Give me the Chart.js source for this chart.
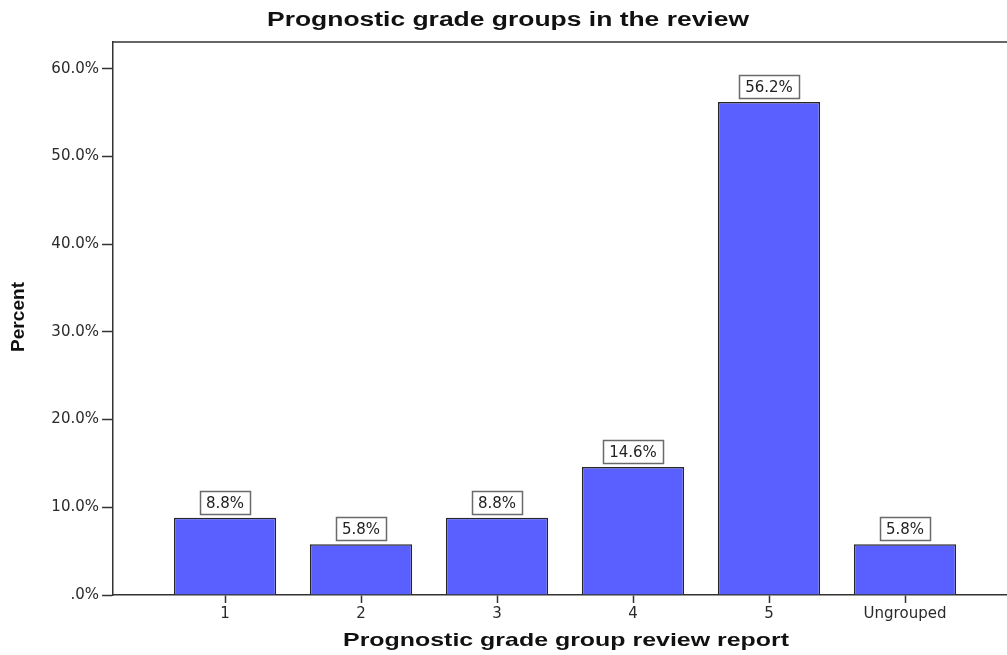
<!DOCTYPE html>
<html>
<head>
<meta charset="utf-8">
<script src="https://cdn.jsdelivr.net/npm/chart.js@4/dist/chart.umd.min.js"></script>
<style>
html,body{margin:0;padding:0;background:#fff;}
#wrap{width:1007px;height:655px;}
</style>
</head>
<body>
<div id="wrap"><canvas id="c" width="1007" height="655"></canvas></div>
<script>
const categories = ['1', '2', '3', '4', '5', 'Ungrouped'];
const percentValues = [8.8, 5.8, 8.8, 14.6, 56.2, 5.8];
const yTickValues = [0, 10, 20, 30, 40, 50, 60];
const chartTitle = 'Prognostic grade groups in the review';
const xAxisTitle = 'Prognostic grade group review report';
const yAxisTitle = 'Percent';

const AXIS = '#333333';
const BOLD = '"Liberation Sans", Arial, sans-serif';

function stretchedText(ctx, text, cx, cy, size, targetW, rot) {
  ctx.save();
  ctx.font = 'bold ' + size + 'px ' + BOLD;
  ctx.fillStyle = '#111111';
  ctx.textAlign = 'center';
  ctx.textBaseline = 'middle';
  const w = ctx.measureText(text).width;
  ctx.translate(cx, cy);
  if (rot) ctx.rotate(rot);
  ctx.scale(targetW / w, 1);
  ctx.fillText(text, 0, 0);
  ctx.restore();
}

const frameAndLabels = {
  id: 'frameAndLabels',
  afterDraw(chart) {
    const ctx = chart.ctx;
    const a = chart.chartArea;
    ctx.save();
    ctx.strokeStyle = AXIS;
    ctx.lineWidth = 1.5;
    ctx.beginPath();
    ctx.moveTo(a.left, a.top);
    ctx.lineTo(a.right, a.top);
    ctx.stroke();

    const meta = chart.getDatasetMeta(0);
    ctx.font = '15px "DejaVu Sans"';
    ctx.textAlign = 'center';
    ctx.textBaseline = 'middle';
    meta.data.forEach((bar, i) => {
      const txt = percentValues[i].toFixed(1) + '%';
      const tw = ctx.measureText(txt).width;
      const w = Math.round(tw + 12), h = 23;
      const x = Math.round(bar.x - w / 2) + 0.5;
      const y = Math.round(bar.y - 4 - h) + 0.5;
      ctx.fillStyle = '#ffffff';
      ctx.fillRect(x, y, w, h);
      ctx.strokeStyle = '#6a6a6a';
      ctx.lineWidth = 1.5;
      ctx.strokeRect(x, y, w, h);
      ctx.fillStyle = '#222222';
      ctx.fillText(txt, bar.x, y + h / 2 + 1);
    });
    ctx.restore();

    stretchedText(ctx, chartTitle, 508, 20, 20, 482, 0);
    stretchedText(ctx, xAxisTitle, (a.left + a.right) / 2 + 6, 641, 19, 446, 0);
    stretchedText(ctx, yAxisTitle, 19, 317, 19, 70, -Math.PI / 2);
  }
};

new Chart(document.getElementById('c'), {
  type: 'bar',
  data: {
    datasets: [{
      data: percentValues.map((v, i) => ({ x: i + 1, y: v })),
      backgroundColor: '#5a5fff',
      borderColor: '#262626',
      borderWidth: 1.5,
      barPercentage: 0.752,
      categoryPercentage: 1
    }]
  },
  options: {
    responsive: false,
    animation: false,
    devicePixelRatio: 1,
    layout: { padding: { left: 0, right: 0, top: 42, bottom: 0 } },
    plugins: {
      legend: { display: false },
      tooltip: { enabled: false },
      title: { display: false }
    },
    scales: {
      x: {
        type: 'linear',
        offset: false,
        min: 0.176,
        max: 6.75,
        afterBuildTicks: s => { s.ticks = categories.map((c, i) => ({ value: i + 1 })); },
        afterFit: s => { s.height = 60; },
        ticks: {
          callback: (v) => categories[Math.round(v) - 1] || '',
          color: '#2a2a2a',
          font: { family: '"DejaVu Sans"', size: 15 },
          padding: 2,
          maxRotation: 0,
          autoSkip: false
        },
        grid: { offset: false, drawOnChartArea: false, drawTicks: true, tickLength: 8, color: AXIS, tickWidth: 1.5 },
        border: { display: true, color: AXIS, width: 1.5 },
        title: { display: false }
      },
      y: {
        min: 0,
        max: 63.05,
        afterBuildTicks: s => { s.ticks = yTickValues.map(v => ({ value: v })); },
        afterFit: s => { s.width = 113; },
        ticks: {
          callback: v => (v === 0 ? '.0%' : v.toFixed(1) + '%'),
          color: '#2a2a2a',
          font: { family: '"DejaVu Sans"', size: 15 },
          padding: 3
        },
        grid: { drawOnChartArea: false, drawTicks: true, tickLength: 11, color: AXIS, tickWidth: 1.5 },
        border: { display: true, color: AXIS, width: 1.5 },
        title: { display: false }
      }
    }
  },
  plugins: [frameAndLabels]
});
</script>
</body>
</html>
